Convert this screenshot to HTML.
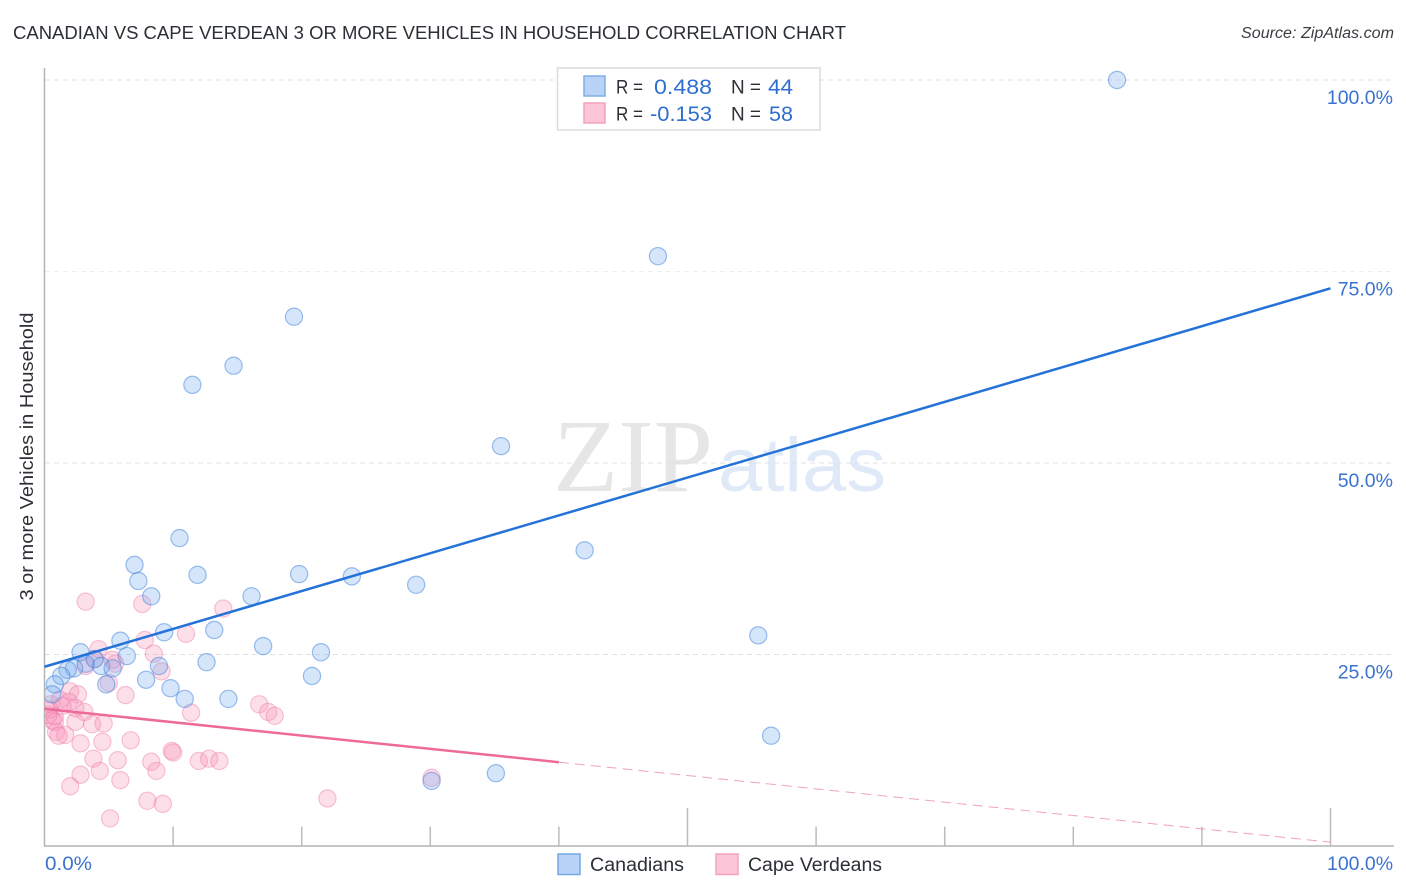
<!DOCTYPE html>
<html lang="en">
<head>
<meta charset="utf-8">
<title>Canadian vs Cape Verdean 3 or More Vehicles in Household Correlation Chart</title>
<style>
html,body{margin:0;padding:0;background:#fff;width:1406px;height:892px;overflow:hidden}
svg{display:block;font-family:"Liberation Sans",sans-serif}
</style>
</head>
<body>
<svg id="chart" xmlns="http://www.w3.org/2000/svg" width="1406" height="892" viewBox="0 0 1406 892">
  <defs><clipPath id="plot-clip"><rect x="45" y="60" width="1350" height="786"/></clipPath></defs>
  <text x="13" y="39" font-size="18.5" fill="#2b2f36" textLength="833" lengthAdjust="spacingAndGlyphs">CANADIAN VS CAPE VERDEAN 3 OR MORE VEHICLES IN HOUSEHOLD CORRELATION CHART</text>
  <text x="1241" y="38" font-size="15.5" font-style="italic" fill="#3a3d42" textLength="153" lengthAdjust="spacingAndGlyphs">Source: ZipAtlas.com</text>
  <g>
    <text x="553" y="491" font-family="'Liberation Serif',serif" font-size="104" fill="#e6e6e6" textLength="160" lengthAdjust="spacingAndGlyphs">ZIP</text>
    <text x="718" y="491" font-size="76" fill="#dfe9f8" textLength="168" lengthAdjust="spacingAndGlyphs">atlas</text>
  </g>
  <g id="grid"></g>
  <g id="axes"></g>
  <g id="pink-points" clip-path="url(#plot-clip)"></g>
  <g id="blue-points" clip-path="url(#plot-clip)"></g>
  <g id="trends"></g>
  <text transform="translate(33,456.5) rotate(-90)" font-size="18.5" fill="#2b2f36" text-anchor="middle" textLength="288" lengthAdjust="spacingAndGlyphs">3 or more Vehicles in Household</text>
  <g id="y-labels"></g>
  <g id="x-labels"></g>
  <g>
    <rect x="557.5" y="68" width="262.5" height="62" fill="#fff" stroke="#dcdcdc" stroke-width="1.5"/>
    <rect x="584" y="76" width="21" height="20" fill="#b9d3f6" stroke="#7eaee6" stroke-width="1.5"/>
    <rect x="584" y="103" width="21" height="20" fill="#fcc5d8" stroke="#f3a3be" stroke-width="1.5"/>
    <text x="616" y="93.5" font-size="19" fill="#2b2f36" textLength="27" lengthAdjust="spacingAndGlyphs">R =</text>
    <text x="654" y="94" font-size="21.5" fill="#2f6fd0" textLength="58" lengthAdjust="spacingAndGlyphs">0.488</text>
    <text x="731" y="93.5" font-size="19" fill="#2b2f36" textLength="30" lengthAdjust="spacingAndGlyphs">N =</text>
    <text x="768" y="94" font-size="21.5" fill="#2f6fd0" textLength="25" lengthAdjust="spacingAndGlyphs">44</text>
    <text x="616" y="120.5" font-size="19" fill="#2b2f36" textLength="27" lengthAdjust="spacingAndGlyphs">R =</text>
    <text x="650" y="121" font-size="21.5" fill="#2f6fd0" textLength="62" lengthAdjust="spacingAndGlyphs">-0.153</text>
    <text x="731" y="120.5" font-size="19" fill="#2b2f36" textLength="30" lengthAdjust="spacingAndGlyphs">N =</text>
    <text x="769" y="121" font-size="21.5" fill="#2f6fd0" textLength="24" lengthAdjust="spacingAndGlyphs">58</text>
  </g>
  <g>
    <rect x="558" y="854" width="22" height="20.5" fill="#b9d3f6" stroke="#74a8e4" stroke-width="1.5"/>
    <text x="590" y="871" font-size="19" fill="#2b2f36" textLength="94" lengthAdjust="spacingAndGlyphs">Canadians</text>
    <rect x="716" y="854" width="22" height="20.5" fill="#fcc5d8" stroke="#f3a3be" stroke-width="1.5"/>
    <text x="748" y="871" font-size="19" fill="#2b2f36" textLength="134" lengthAdjust="spacingAndGlyphs">Cape Verdeans</text>
  </g>
</svg>
<script>
const canadiansX = [83.4,47.7,19.4,14.7,11.5,35.5,10.5,42.0,7.0,7.3,11.9,19.8,23.9,28.9,8.3,16.1,9.3,13.2,5.9,55.5,17.0,21.5,2.8,6.4,12.6,3.9,3.2,4.4,5.3,2.3,1.8,8.9,7.9,20.8,1.3,0.8,4.8,9.8,10.9,14.3,56.5,35.1,30.1,0.6];
const canadiansY = [100,77.0,69.1,62.7,60.2,52.2,40.2,38.6,36.7,34.6,35.4,35.5,35.2,34.1,32.6,32.6,27.9,28.2,26.8,27.5,26.1,25.3,25.3,24.8,24.0,24.4,23.8,23.5,23.2,23.2,23.0,23.5,21.7,22.2,22.2,21.1,21.1,20.6,19.2,19.2,14.4,9.5,8.5,19.8];
const capeVerdeansX = [3.2,7.6,13.9,7.8,11.0,4.2,8.5,3.9,5.3,3.2,5.5,9.1,5.0,2.0,2.6,6.3,0.5,1.2,1.9,2.4,3.1,0.4,0.8,2.4,3.7,4.6,0.6,0.9,0.8,1.6,1.1,2.8,4.5,6.7,11.4,16.7,17.4,17.9,3.8,5.7,8.3,8.7,9.9,10.0,12.0,12.8,13.6,2.8,4.3,5.9,2.0,8.0,9.2,22.0,5.1,30.1,0.3,1.4];
const capeVerdeansY = [31.9,31.6,31.0,26.9,27.7,25.7,25.1,24.4,24.3,23.5,23.8,22.8,21.3,20.2,19.8,19.7,18.5,19.1,18.8,18.0,17.5,17.8,16.9,16.2,15.9,16.0,16.4,14.9,16.2,14.5,14.4,13.4,13.6,13.8,17.4,18.5,17.5,17.0,11.4,11.2,11.0,9.8,12.4,12.2,11.1,11.4,11.1,9.3,9.8,8.6,7.8,5.9,5.5,6.2,3.6,8.9,17.1,18.3];
const canadiansTrend = [23.4, 72.8];
const capeVerdeansTrend = [17.9, 0.5];
const capeVerdeansSolidEnd = 40;
const gridValues = [25, 50, 75, 100];
const yTickLabels = ["25.0%", "50.0%", "75.0%", "100.0%"];
const xTickValues = [0, 10, 20, 30, 40, 50, 60, 70, 80, 90, 100];
const xMajorTicks = [50, 100];
const xEndLabels = ["0.0%", "100.0%"];

const NS = "http://www.w3.org/2000/svg";
const xScale = v => 44.5 + v * 12.86;
const yScale = v => 846 - v * 7.66;
function make(tag, parent, attrs) {
  const el = document.createElementNS(NS, tag);
  for (const k in attrs) el.setAttribute(k, attrs[k]);
  parent.appendChild(el);
  return el;
}
const grid = document.getElementById("grid");
gridValues.forEach((v, i) => {
  const line = make("line", grid, {x1: 45, x2: 1394, y1: yScale(v), y2: yScale(v), stroke: i === 2 ? "#eeeeee" : "#e0e0e0", "stroke-width": 1, "stroke-dasharray": "5 4"});
  
  
});
const axes = document.getElementById("axes");
const yAxis = make("line", axes, {x1: 44.5, x2: 44.5, y1: 68, y2: 846, stroke: "#b4b4b4", "stroke-width": 1.5});


const xAxis = make("line", axes, {x1: 44, x2: 1394, y1: 846, y2: 846, stroke: "#b4b4b4", "stroke-width": 1.5});


xTickValues.slice(1).forEach(v => {
  const top = xMajorTicks.includes(v) ? 808 : 826.5;
  const t = make("line", axes, {x1: xScale(v), x2: xScale(v), y1: top, y2: 846, stroke: "#bcbcbc", "stroke-width": 1.5});
  
  
});
function drawPoints(group, xs, ys, fill, stroke, name) {
  xs.forEach((x, i) => {
    const c = make("circle", group, {cx: xScale(x), cy: yScale(ys[i]), r: 8.6, fill: fill, stroke: stroke, "stroke-width": 1.2});
    
    
  });
}
drawPoints(document.getElementById("pink-points"), capeVerdeansX, capeVerdeansY, "rgba(248,150,185,0.3)", "rgba(236,120,160,0.42)", "cape-verdeans-point");
drawPoints(document.getElementById("blue-points"), canadiansX, canadiansY, "rgba(115,170,240,0.3)", "rgba(60,130,220,0.5)", "canadians-point");

const trends = document.getElementById("trends");
const pinkAt = v => capeVerdeansTrend[0] + (capeVerdeansTrend[1] - capeVerdeansTrend[0]) * v / 100;
const pinkDash = make("line", trends, {x1: xScale(capeVerdeansSolidEnd), y1: yScale(pinkAt(capeVerdeansSolidEnd)), x2: xScale(100), y2: yScale(capeVerdeansTrend[1]), stroke: "#ee7aa3", "stroke-width": 1, "stroke-dasharray": "10 6", opacity: 0.7});


const pinkSolid = make("line", trends, {x1: xScale(0), y1: yScale(capeVerdeansTrend[0]), x2: xScale(capeVerdeansSolidEnd), y2: yScale(pinkAt(capeVerdeansSolidEnd)), stroke: "#ee6a98", "stroke-width": 2.5});


const blueLine = make("line", trends, {x1: xScale(0), y1: yScale(canadiansTrend[0]), x2: xScale(100), y2: yScale(canadiansTrend[1]), stroke: "#2372d8", "stroke-width": 2.5});



const yLabels = document.getElementById("y-labels");
gridValues.forEach((v, i) => {
  const t = make("text", yLabels, {x: 1393, y: yScale(v) + 24, "font-size": 19.5, fill: "#3a72d0", "text-anchor": "end"});
  t.textContent = yTickLabels[i];
  
  
});
const xLabels = document.getElementById("x-labels");
const x0 = make("text", xLabels, {x: 45, y: 870, "font-size": 19.5, fill: "#3a72d0", textLength: 47, lengthAdjust: "spacingAndGlyphs"});
x0.textContent = xEndLabels[0];


const x1 = make("text", xLabels, {x: 1327, y: 870, "font-size": 19.5, fill: "#3a72d0", textLength: 66, lengthAdjust: "spacingAndGlyphs"});
x1.textContent = xEndLabels[1];


</script>
</body>
</html>
